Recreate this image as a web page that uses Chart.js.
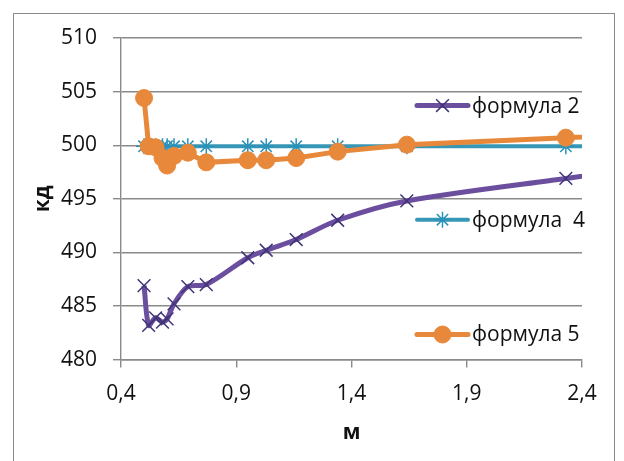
<!DOCTYPE html>
<html>
<head>
<meta charset="utf-8">
<script src="https://cdn.jsdelivr.net/npm/chart.js@4/dist/chart.umd.min.js"></script>
<style>
  body { margin: 0; background: #fff; }
  #wrap { position: relative; width: 624px; height: 461px; overflow: hidden; }
  #frame {
    position: absolute; left: 13px; top: 13px; width: 602px; height: 470px;
    border: 1.5px solid #8a8a8a; box-sizing: border-box;
  }
  canvas { position: absolute; left: 0; top: 0; }
</style>
</head>
<body>
<div id="wrap">
  <div id="frame"></div>
  <canvas id="myChart" width="624" height="461"></canvas>
</div>
<script>
// м values shared by all three formulas (last one lies past the axis end)
const mValues = [0.5, 0.52, 0.55, 0.58, 0.6, 0.63, 0.69, 0.77, 0.95, 1.03, 1.16, 1.34, 1.64, 2.33, 3.0];

const formula2 = [486.9, 483.2, 483.9, 483.5, 483.8, 485.2, 486.8, 487.0, 489.5, 490.2, 491.2, 493.0, 494.8, 496.9, 498.8];
const formula4 = [499.9, 499.9, 499.9, 499.9, 499.9, 499.9, 499.9, 499.9, 499.9, 499.9, 499.9, 499.9, 499.9, 499.9, 499.9];
const formula5 = [504.4, 499.9, 499.8, 498.8, 498.1, 499.0, 499.3, 498.4, 498.6, 498.6, 498.8, 499.4, 500.05, 500.7, 501.4];

const seriesLabels = ["формула 2", "формула  4", "формула 5"];

const xMin = 0.4, xMax = 2.4, xStep = 0.5;
const yMin = 480, yMax = 510, yStep = 5;

const gridColor = "#8a8a8a";
const textColor = "#111";
const fontSize = 21;

function points(ys) {
  return mValues.map((x, i) => ({ x: x, y: ys[i] }));
}

Chart.defaults.font.family = '"Open Sans", sans-serif';
Chart.defaults.font.size = fontSize;
Chart.defaults.color = textColor;

// legend entries stacked down the right side of the plot
const sideLegend = {
  id: "sideLegend",
  afterDraw(chart, args, opts) {
    const { ctx, chartArea } = chart;
    chart.data.datasets.forEach((ds, i) => {
      const y = chartArea.top + chartArea.height * opts.rows[i];
      const x0 = chartArea.right - opts.offset;
      const x1 = x0 + opts.sampleWidth;
      ctx.save();
      ctx.lineCap = "round";
      ctx.strokeStyle = ds.borderColor;
      ctx.lineWidth = ds.borderWidth;
      ctx.beginPath();
      ctx.moveTo(x0, y);
      ctx.lineTo(x1, y);
      ctx.stroke();

      ctx.lineCap = "butt";
      ctx.fillStyle = ds.pointBackgroundColor;
      ctx.strokeStyle = ds.pointBorderColor;
      ctx.lineWidth = ds.pointBorderWidth;
      Chart.helpers.drawPoint(ctx, {
        pointStyle: ds.pointStyle,
        radius: ds.pointRadius,
        borderWidth: ds.pointBorderWidth,
        rotation: 0,
      }, (x0 + x1) / 2, y);

      ctx.fillStyle = textColor;
      ctx.font = fontSize + 'px "Open Sans", sans-serif';
      ctx.textBaseline = "middle";
      ctx.fillText(ds.label, x1 + 4, y + 1);
      ctx.restore();
    });
  },
};

const data = {
  datasets: [
    {
      label: seriesLabels[0],
      data: points(formula2),
      borderColor: "#6b4f9e",
      borderWidth: 5,
      tension: 0.3,
      pointStyle: "crossRot",
      pointRadius: 9,
      pointBorderWidth: 1.5,
      pointBorderColor: "#3f3478",
      pointBackgroundColor: "#3f3478",
      order: 2,
    },
    {
      label: seriesLabels[1],
      data: points(formula4),
      borderColor: "#3797b6",
      borderWidth: 4,
      tension: 0,
      pointStyle: "star",
      pointRadius: 8,
      pointBorderWidth: 1.5,
      pointBorderColor: "#2a92b8",
      pointBackgroundColor: "#2a92b8",
      order: 1,
    },
    {
      label: seriesLabels[2],
      data: points(formula5),
      borderColor: "#e8883a",
      borderWidth: 5,
      tension: 0,
      pointStyle: "circle",
      pointRadius: 8.5,
      pointBorderWidth: 1,
      pointBorderColor: "#e8883a",
      pointBackgroundColor: "#e8883a",
      order: 0,
    },
  ],
};

const config = {
  type: "line",
  data: data,
  plugins: [sideLegend],
  options: {
    responsive: false,
    animation: false,
    clip: 0,
    layout: {
      padding: { left: 0, right: 42, top: 38, bottom: 11 },
    },
    plugins: {
      legend: { display: false },
      tooltip: { enabled: false },
      sideLegend: { rows: [0.21, 0.565, 0.922], offset: 165, sampleWidth: 51 },
    },
    scales: {
      x: {
        type: "linear",
        min: xMin,
        max: xMax,
        ticks: {
          stepSize: xStep,
          padding: 14,
          callback: (v) => v.toFixed(1).replace(".", ","),
        },
        grid: {
          drawOnChartArea: false,
          tickLength: 8,
          color: gridColor,
          lineWidth: 1.4,
        },
        border: { color: gridColor, width: 1.4 },
        title: {
          display: true,
          text: "м",
          font: { weight: "bold", size: fontSize },
          padding: { top: 0, bottom: 4 },
        },
      },
      y: {
        min: yMin,
        max: yMax,
        ticks: { stepSize: yStep, padding: 16 },
        grid: { tickLength: 8, color: gridColor, lineWidth: 1.4 },
        border: { color: gridColor, width: 1.4 },
        title: {
          display: true,
          text: "кд",
          font: { weight: "bold", size: fontSize },
          padding: { top: 30, bottom: 0 },
        },
        afterFit(scale) {
          scale.width = 121;
        },
      },
    },
  },
};

const myChart = new Chart(document.getElementById("myChart"), config);
</script>
</body>
</html>
